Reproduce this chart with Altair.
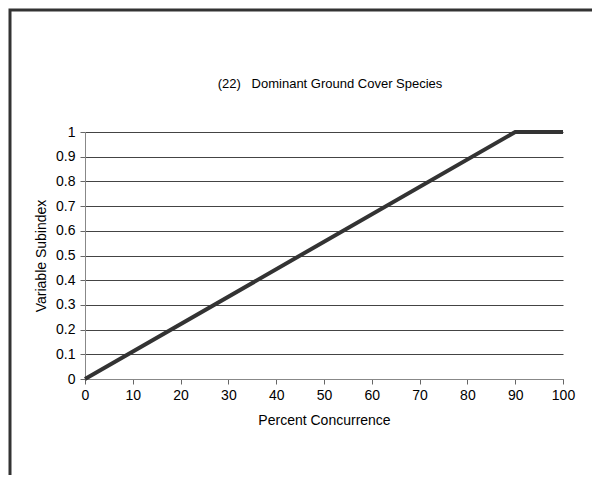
import altair as alt
import pandas as pd

# data
x_values = [0, 90, 100]
y_values = [0, 1, 1]
x_ticks = [0, 10, 20, 30, 40, 50, 60, 70, 80, 90, 100]
y_ticks = [0, 0.1, 0.2, 0.3, 0.4, 0.5, 0.6, 0.7, 0.8, 0.9, 1]
title_text = "(22)\u00a0\u00a0\u00a0Dominant Ground Cover Species"

df = pd.DataFrame({"x": x_values, "y": y_values})
FONT = "Liberation Sans"

line = alt.Chart(df).mark_line(color="#333333", strokeWidth=4, strokeCap="butt").encode(
    x=alt.X("x:Q", scale=alt.Scale(domain=[0, 100], nice=False),
            axis=alt.Axis(values=x_ticks, title="Percent Concurrence", grid=False,
                          tickSize=5, labelPadding=4, titlePadding=11, labelFlush=False)),
    y=alt.Y("y:Q", scale=alt.Scale(domain=[0, 1], nice=False),
            axis=alt.Axis(values=y_ticks, format=".1~f", title="Variable Subindex", grid=True,
                          tickSize=5, labelPadding=5, titlePadding=7, labelFlush=False)),
)

border = alt.Chart(pd.DataFrame({"a": [0]})).mark_rect(
    fillOpacity=0, stroke="#333333", strokeWidth=3
).encode(
    x=alt.value(-75), x2=alt.value(700), y=alt.value(-122), y2=alt.value(500)
)

title = alt.Chart(pd.DataFrame({"a": [0]})).mark_text(
    text=title_text, font=FONT, fontSize=13, color="#000000",
    align="center", baseline="middle"
).encode(x=alt.value(245), y=alt.value(-48))

chart = alt.layer(border, line, title).properties(
    width=478, height=247,
    autosize=alt.AutoSizeParams(type="none"),
    padding={"left": 77, "top": 124, "right": 29, "bottom": 96},
).configure(background="white").configure_view(stroke=None).configure_axis(
    labelFont=FONT, titleFont=FONT, labelFontSize=14, titleFontSize=14,
    labelColor="#000000", titleColor="#000000", titleFontWeight="normal",
    domainColor="#888888", tickColor="#666666", gridColor="#444444", gridWidth=1,
)

chart.save("out.html", embed_options={"renderer": "svg", "actions": False})
